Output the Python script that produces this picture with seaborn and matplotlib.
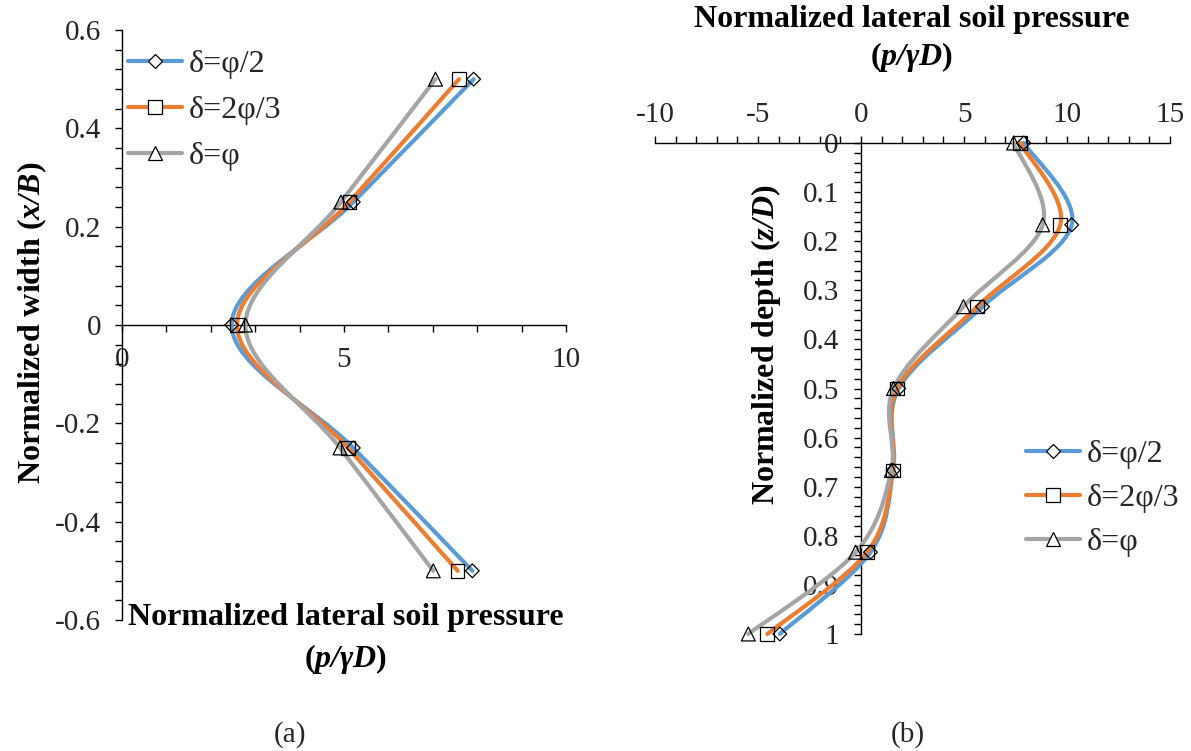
import numpy as np
import pandas as pd
import matplotlib
matplotlib.use("Agg")
import matplotlib.pyplot as plt
from matplotlib.path import Path
from matplotlib.patches import PathPatch
from matplotlib.lines import Line2D
from matplotlib.ticker import MultipleLocator, FuncFormatter
import seaborn as sns

# ---------------- data ----------------
series_labels = ["δ=φ/2", "δ=2φ/3", "δ=φ"]

# panel (a): normalized width (x/B) vs normalized lateral soil pressure
width_pos = [0.5, 0.25, 0.0, -0.25, -0.5]
a_half = [7.92, 5.21, 2.47, 5.21, 7.89]
a_two_thirds = [7.59, 5.12, 2.59, 5.09, 7.56]
a_full = [7.06, 4.93, 2.78, 4.91, 7.01]

# panel (b): normalized depth (z/D) vs normalized lateral soil pressure
depth = [0.0, 1 / 6, 1 / 3, 0.5, 2 / 3, 5 / 6, 1.0]
b_half = [7.90, 10.23, 5.90, 1.83, 1.56, 0.46, -3.94]
b_two_thirds = [7.73, 9.67, 5.64, 1.74, 1.54, 0.29, -4.55]
b_full = [7.41, 8.82, 4.97, 1.58, 1.47, -0.26, -5.47]

# ---------------- style ----------------
sns.set_style("white")
plt.rcParams["font.family"] = ["Liberation Serif", "DejaVu Serif"]
plt.rcParams["mathtext.fontset"] = "custom"
plt.rcParams["mathtext.rm"] = "Liberation Serif"
plt.rcParams["mathtext.it"] = "Liberation Serif:italic"
plt.rcParams["mathtext.bf"] = "Liberation Serif:bold"
plt.rcParams["mathtext.bfit"] = "Liberation Serif:italic:bold"
plt.rcParams["axes.unicode_minus"] = False

colors = ["#5B9BD5", "#ED7D31", "#A5A5A5"]
markers = ["D", "s", "^"]
msizes = [7.0, 9.8, 10.0]
TXT = "#262626"
W, H = 1191, 751
TICK_FS = 21
LEG_FS = 23
TITLE_FS = 23

fig = plt.figure(figsize=(W / 100, H / 100), dpi=100)
fig.patch.set_facecolor("white")
axA = fig.add_axes([122 / W, 1 - 620 / H, 444 / W, 590 / H])
axB = fig.add_axes([655 / W, 1 - 634 / H, 515 / W, 491 / H])


def smooth_path(xs, ys):
    pts = np.column_stack([xs, ys]).astype(float)
    n = len(pts)
    verts = [pts[0]]
    codes = [Path.MOVETO]
    for i in range(n - 1):
        p0 = pts[i - 1] if i > 0 else pts[i]
        p1 = pts[i]
        p2 = pts[i + 1]
        p3 = pts[i + 2] if i + 2 < n else pts[i + 1]
        c1 = p1 + (p2 - p0) / 6.0
        c2 = p2 - (p3 - p1) / 6.0
        verts += [c1, c2, p2]
        codes += [Path.CURVE4] * 3
    return Path(verts, codes)


def draw_series(ax, xs_list, ys):
    for xs, c in zip(xs_list, colors):
        patch = PathPatch(smooth_path(xs, ys), facecolor="none", edgecolor=c,
                          lw=3.0, capstyle="round", joinstyle="round",
                          zorder=3, clip_on=False)
        ax.add_patch(patch)
    for xs, m, ms in zip(xs_list, markers, msizes):
        df = pd.DataFrame({"p": xs, "pos": ys})
        sns.scatterplot(data=df, x="p", y="pos", marker=m, s=ms ** 2,
                        color="black", facecolor="none", edgecolor="black",
                        linewidth=0.9, ax=ax, zorder=4, clip_on=False,
                        legend=False)


def legend_handles():
    return [Line2D([0], [0], color=c, lw=3.0, marker=m, markersize=ms,
                   markerfacecolor="white", markeredgecolor="black",
                   markeredgewidth=0.9, solid_capstyle="round")
            for c, m, ms in zip(colors, markers, msizes)]


fmt = FuncFormatter(lambda v, p: f"{v:.10g}" if abs(v) > 1e-9 else "0")

# ---------------- panel (a) ----------------
draw_series(axA, [a_half, a_two_thirds, a_full], width_pos)
axA.set_xlim(0, 10)
axA.set_ylim(-0.6, 0.6)
axA.set_xlabel("")
axA.set_ylabel("")
for s in ["top", "right"]:
    axA.spines[s].set_visible(False)
axA.spines["bottom"].set_position(("data", 0))
for s in ["bottom", "left"]:
    axA.spines[s].set_color("black")
    axA.spines[s].set_linewidth(1.0)
axA.xaxis.set_major_locator(MultipleLocator(5))
axA.xaxis.set_minor_locator(MultipleLocator(1))
axA.yaxis.set_major_locator(MultipleLocator(0.2))
axA.yaxis.set_minor_locator(MultipleLocator(0.04))
axA.xaxis.set_major_formatter(fmt)
axA.yaxis.set_major_formatter(fmt)
axA.tick_params(which="both", direction="out", width=1.0, color="black",
                labelsize=TICK_FS, labelcolor=TXT, left=True, bottom=True)
axA.tick_params(which="major", length=5)
axA.tick_params(which="minor", length=5)
axA.tick_params(axis="x", which="major", pad=11)
axA.tick_params(axis="y", which="major", pad=10)
axA.set_facecolor("none")

axA.legend(handles=legend_handles(), labels=series_labels, loc="upper left",
           bbox_to_anchor=(128 / W, 1 - 50 / H), bbox_transform=fig.transFigure,
           frameon=False, fontsize=LEG_FS, handlelength=1.7, handletextpad=0.2,
           labelspacing=0.52, borderpad=0, borderaxespad=0, labelcolor=TXT)

# ---------------- panel (b) ----------------
draw_series(axB, [b_half, b_two_thirds, b_full], depth)
axB.set_xlim(-10, 15)
axB.set_ylim(1, 0)
axB.set_xlabel("")
axB.set_ylabel("")
for s in ["bottom", "right"]:
    axB.spines[s].set_visible(False)
axB.spines["left"].set_position(("data", 0))
for s in ["top", "left"]:
    axB.spines[s].set_color("black")
    axB.spines[s].set_linewidth(1.0)
axB.xaxis.tick_top()
axB.xaxis.set_major_locator(MultipleLocator(5))
axB.xaxis.set_minor_locator(MultipleLocator(1))
axB.yaxis.set_major_locator(MultipleLocator(0.1))
axB.yaxis.set_minor_locator(MultipleLocator(0.02))
axB.xaxis.set_major_formatter(fmt)
axB.yaxis.set_major_formatter(fmt)
axB.tick_params(which="both", direction="out", width=1.0, color="black",
                labelsize=TICK_FS, labelcolor=TXT, left=True, top=True, bottom=False)
axB.tick_params(which="major", length=5)
axB.tick_params(which="minor", length=5)
axB.tick_params(axis="x", which="major", pad=6)
axB.tick_params(axis="y", which="major", pad=11)
axB.set_facecolor("none")

axB.legend(handles=legend_handles(), labels=series_labels, loc="upper left",
           bbox_to_anchor=(1026 / W, 1 - 440 / H), bbox_transform=fig.transFigure,
           frameon=False, fontsize=LEG_FS, handlelength=1.7, handletextpad=0.2,
           labelspacing=0.45, borderpad=0, borderaxespad=0, labelcolor=TXT)

# ---------------- axis titles ----------------
title_kw = dict(fontsize=TITLE_FS, fontweight="bold", color="black",
                ha="center", va="center")
fig.text(346 / W, 1 - 617 / H, "Normalized lateral soil pressure", **title_kw)
fig.text(346 / W, 1 - 659 / H, r"($\mathbfit{p/\gamma D}$)", **title_kw)
fig.text(912 / W, 1 - 20 / H, "Normalized lateral soil pressure", **title_kw)
fig.text(912 / W, 1 - 57 / H, r"($\mathbfit{p/\gamma D}$)", **title_kw)
fig.text(32 / W, 1 - 323 / H, r"Normalized width ($\mathbfit{x/B}$)",
         rotation=90, **title_kw)
fig.text(766 / W, 1 - 345 / H, r"Normalized depth ($\mathbfit{z/D}$)",
         rotation=90, **title_kw)

fig.text(290 / W, 1 - 735 / H, "(a)", fontsize=21, color=TXT,
         ha="center", va="center")
fig.text(908 / W, 1 - 735 / H, "(b)", fontsize=21, color=TXT,
         ha="center", va="center")

fig.savefig("out.png", dpi=100, facecolor="white")
